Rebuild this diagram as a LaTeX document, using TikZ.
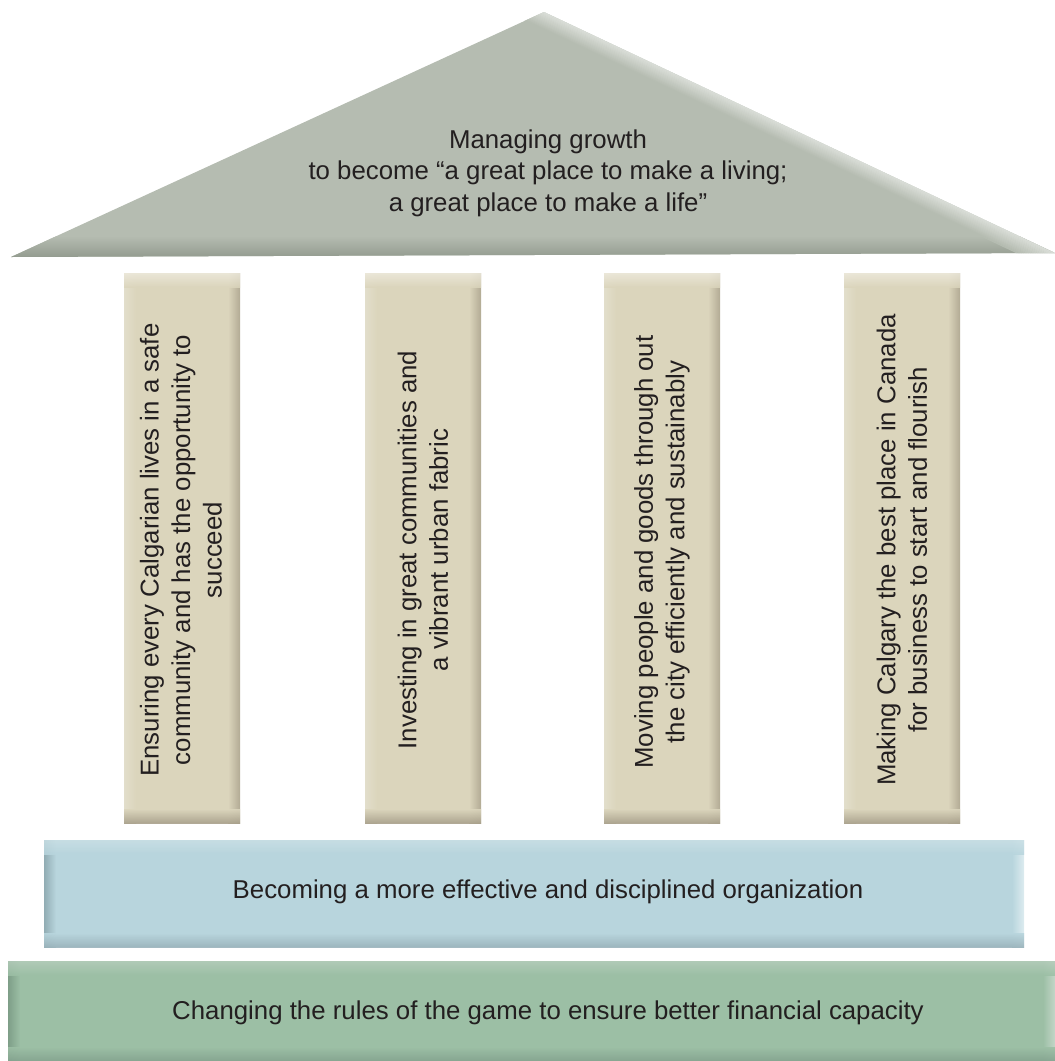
\documentclass[tikz,border=0pt]{standalone}
\usepackage{fontspec}
\setmainfont{Liberation Sans}
\usetikzlibrary{calc}
\definecolor{txt}{HTML}{231F20}
\definecolor{roofbase}{HTML}{B5BCB1}
\definecolor{roofdark}{HTML}{929A8E}
\definecolor{roofhi}{HTML}{DCE0DA}
\definecolor{pilbase}{HTML}{DBD5BC}
\definecolor{piltop}{HTML}{EDE9DC}
\definecolor{pilbot}{HTML}{A8A08B}
\definecolor{pilleft}{HTML}{E2DECB}
\definecolor{pilright}{HTML}{B2AA94}
\definecolor{blubase}{HTML}{B8D5DD}
\definecolor{blutop}{HTML}{C9DFE5}
\definecolor{blubot}{HTML}{9AB3BB}
\definecolor{bluleft}{HTML}{92ADB4}
\definecolor{bluright}{HTML}{DDECF0}
\definecolor{grnbase}{HTML}{9CBFA5}
\definecolor{grntop}{HTML}{B4CCBA}
\definecolor{grnbot}{HTML}{84A38F}
\definecolor{grnleft}{HTML}{7E9E88}
\definecolor{grnright}{HTML}{C3D6C8}
% bevelled box: x1 y1 x2 y2 base top bottom left right
\newcommand{\bevelbox}[9]{%
  \fill[#5] (#1,#2) rectangle (#3,#4);
  \shade[left color=#8, right color=#5] (#1,#2) rectangle (#1+12,#4);
  \shade[left color=#5, right color=#9] (#3-12,#2) rectangle (#3,#4);
  \shade[top color=#6, bottom color=#5, opacity=0.85] (#1,#2) rectangle (#3,#2+14);
  \shade[top color=#5, bottom color=#7, opacity=0.9] (#1,#4-14) rectangle (#3,#4);
}
\tikzset{
  lbl/.style={text=txt, align=center, font=\fontsize{25.8}{31.5}\selectfont, inner sep=0pt},
  vlbl/.style={lbl, rotate=90},
}
\begin{document}
\begin{tikzpicture}[x=1pt,y=-1pt]
\useasboundingbox (0,0) rectangle (1055,1061);
% roof
\begin{scope}
  \clip (11,257) -- (544,12) -- (1055,253) -- cycle;
  \fill[roofbase] (0,0) rectangle (1055,260);
  \shade[top color=roofbase, bottom color=roofdark] (0,236) rectangle (1055,258);
  \foreach \i in {0,...,16}{
    \pgfmathtruncatemacro\p{100-\i*100/16}
    \draw[line width=1.3pt, draw=roofhi!\p!roofbase]
      (544-0.4265*\i-90, 12+0.9044*\i-42.45) -- (1055-0.4265*\i+90, 253+0.9044*\i+42.45);
  }
\end{scope}
\node[lbl] (roof) at (548,173) {Managing growth\\to become “a great place to make a living;\\a great place to make a life”};
% pillars
\bevelbox{124}{273}{240}{823}{pilbase}{piltop}{pilbot}{pilleft}{pilright}
\bevelbox{365}{273}{481}{823}{pilbase}{piltop}{pilbot}{pilleft}{pilright}
\bevelbox{604}{273}{720}{823}{pilbase}{piltop}{pilbot}{pilleft}{pilright}
\bevelbox{844}{273}{960}{823}{pilbase}{piltop}{pilbot}{pilleft}{pilright}
\node[vlbl] (p1) at (181,550) {Ensuring every Calgarian lives in a safe\\community and has the opportunity to\\succeed};
\node[vlbl] (p2) at (423,550) {Investing in great communities and\\a vibrant urban fabric};
\node[vlbl] (p3) at (662,552) {Moving people and goods through out\\the city efficiently and sustainably};
\node[vlbl] (p4) at (902,550) {Making Calgary the best place in Canada\\for business to start and flourish};
% bands
\bevelbox{44}{840}{1024}{947}{blubase}{blutop}{blubot}{bluleft}{bluright}
\node[lbl] (b1) at (548,892) {Becoming a more effective and disciplined organization};
\bevelbox{8}{961}{1055}{1061}{grnbase}{grntop}{grnbot}{grnleft}{grnright}
\node[lbl] (b2) at (548,1013) {Changing the rules of the game to ensure better financial capacity};
\end{tikzpicture}
\end{document}
